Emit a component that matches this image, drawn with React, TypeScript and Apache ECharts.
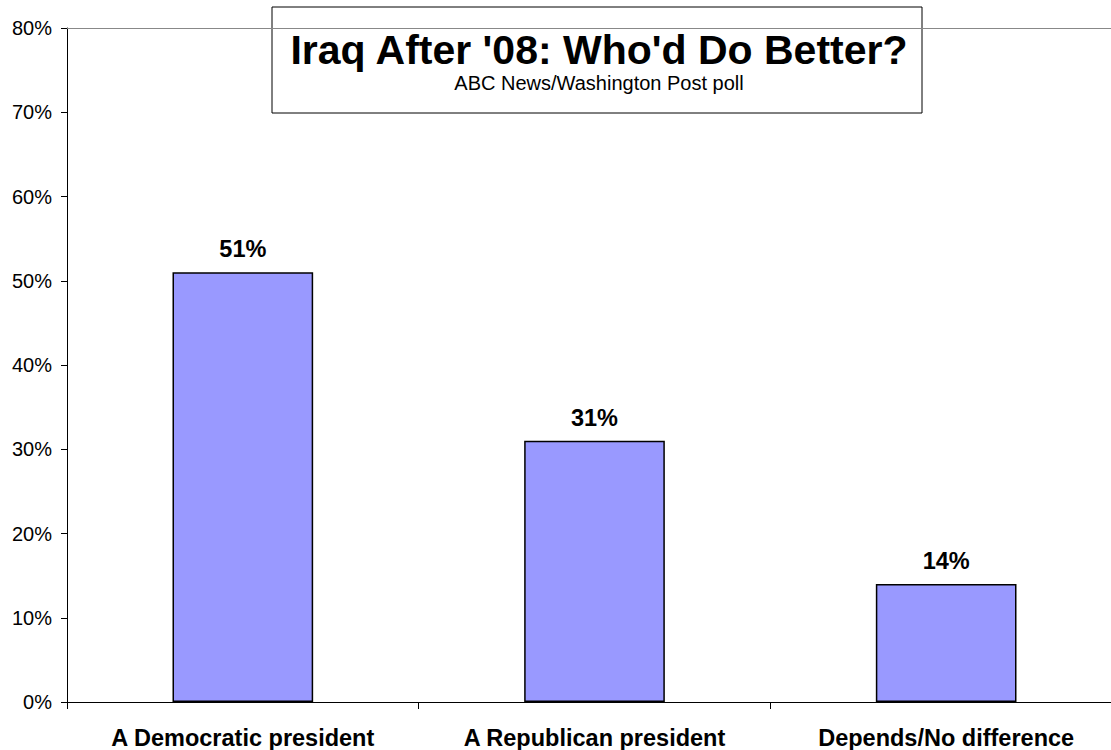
import React, { useEffect, useRef } from "react";
import * as echarts from "echarts";

const categories = ["A Democratic president", "A Republican president", "Depends/No difference"];
const values = [51, 31, 14];
const yTicks = [0, 10, 20, 30, 40, 50, 60, 70, 80];
const titleText = "Iraq After '08: Who'd Do Better?";
const subtitleText = "ABC News/Washington Post poll";

export default function App() {
  const ref = useRef<HTMLDivElement>(null);
  useEffect(() => {
    const chart = echarts.init(ref.current!, null, { renderer: "svg" });
    const font = "Arial, 'Liberation Sans', Helvetica, sans-serif";
    chart.setOption({
      animation: false,
      backgroundColor: "#ffffff",
      textStyle: { fontFamily: font },
      grid: { left: 67, right: 0, top: 28, bottom: 48, containLabel: false },
      xAxis: [
        {
          type: "category",
          data: categories,
          position: "bottom",
          axisLine: { lineStyle: { color: "#000", width: 1 } },
          axisTick: { show: true, length: 7, lineStyle: { color: "#000" } },
          axisLabel: { color: "#000", fontSize: 23.5, fontWeight: "bold", fontFamily: font, margin: 24 },
        },
        {
          type: "category",
          data: categories,
          position: "top",
          axisLine: { show: true, lineStyle: { color: "#888", width: 1 } },
          axisTick: { show: false },
          axisLabel: { show: false },
        },
      ],
      yAxis: {
        type: "value",
        min: yTicks[0],
        max: yTicks[yTicks.length - 1],
        interval: 10,
        axisLine: { show: true, lineStyle: { color: "#000", width: 1 } },
        axisTick: { show: true, length: 6, lineStyle: { color: "#000" } },
        axisLabel: { color: "#000", fontSize: 20, fontFamily: font, margin: 15, formatter: "{value}%" },
        splitLine: { show: false },
      },
      title: {
        text: titleText,
        subtext: subtitleText,
        left: 594,
        top: 24,
        textAlign: "center",
        itemGap: 3,
        textStyle: { fontSize: 41, fontWeight: "bold", color: "#000", fontFamily: font },
        subtextStyle: { fontSize: 20, color: "#000", fontFamily: font },
      },
      graphic: [
        {
          type: "rect",
          z: -1,
          zlevel: 0,
          shape: { x: 272, y: 7, width: 650, height: 106 },
          style: { fill: "#fff", stroke: "#000", lineWidth: 1 },
        },
      ],
      series: [
        {
          type: "bar",
          data: values,
          xAxisIndex: 0,
          barCategoryGap: "60%",
          itemStyle: { color: "#9999ff", borderColor: "#000", borderWidth: 1.5 },
          label: {
            show: true,
            position: "top",
            distance: 11,
            formatter: "{c}%",
            color: "#000",
            fontSize: 23.5,
            fontWeight: "bold",
            fontFamily: font,
          },
        },
      ],
    });
    return () => chart.dispose();
  }, []);
  return (
    <div style={{ width: 1111, height: 750, position: "absolute", left: 0, top: 0, overflow: "hidden" }}>
      <div ref={ref} style={{ width: 1122, height: 750 }} />
    </div>
  );
}
